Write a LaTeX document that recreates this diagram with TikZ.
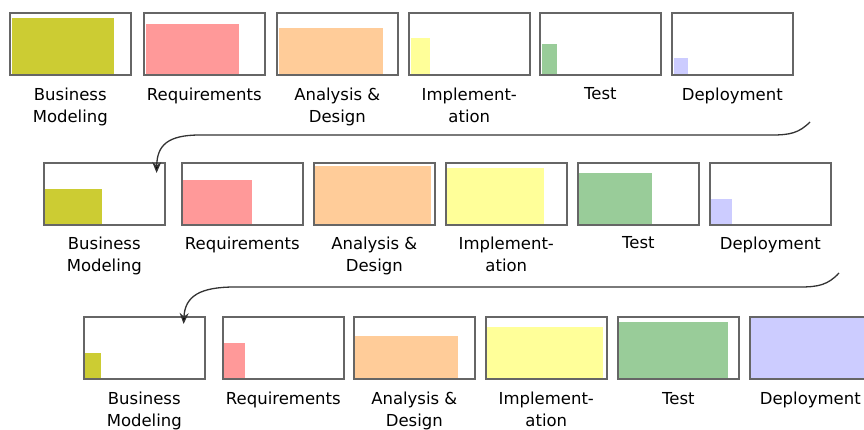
\documentclass[tikz,border=0pt]{standalone}
\usepackage{fontspec}
\setmainfont{DejaVu Sans}
\usetikzlibrary{arrows.meta,positioning}

\definecolor{boxgray}{HTML}{666666}
\definecolor{linegray}{HTML}{333333}
\definecolor{bm}{HTML}{CCCC33}
\definecolor{rq}{HTML}{FF9999}
\definecolor{ad}{HTML}{FFCC99}
\definecolor{im}{HTML}{FFFF99}
\definecolor{ts}{HTML}{99CC99}
\definecolor{dp}{HTML}{CCCCFF}

\begin{document}
\begin{tikzpicture}[x=1pt, y=-1pt, >={Stealth[length=11pt,width=9pt,fill=black]}, shorten >=0pt,
    font=\fontsize{16.5}{22}\selectfont,
    phase/.style={draw=boxgray, line width=1.6pt, minimum width=121pt,
      minimum height=62pt, inner sep=0pt, anchor=north west},
    caption/.style={anchor=north, align=center, inner sep=0pt},
    flow/.style={->, draw=linegray, line width=1.3pt}]

    \clip (0,0) rectangle (864,430);

    % Iteration 1 {a1 .. a6}
    \foreach \px/\fw/\fh/\col/\txt [count=\i] in {
        9/102/56/bm/{Business\\Modeling}, 143/93/50/rq/Requirements,
        276/104/46/ad/{Analysis \&\\Design}, 408/19/36/im/{Implement-\\ation},
        539/15/30/ts/Test, 671/14/16/dp/Deployment}
    {
        \node [phase] (a\i) at (\px,12) {};
        \fill [\col] ([shift={(2.5pt,2pt)}]a\i.south west) rectangle ++(\fw pt,\fh pt);
        \node [caption] (la\i) [below=12pt of a\i] {\txt};
    }

    % Iteration 2 {b1 .. b6}
    \foreach \px/\fw/\fh/\col/\txt [count=\i] in {
        43/57/35/bm/{Business\\Modeling}, 181/69/44/rq/Requirements,
        313/116/58/ad/{Analysis \&\\Design}, 445/97/56/im/{Implement-\\ation},
        577/73/51/ts/Test, 709/21/25/dp/Deployment}
    {
        \node [phase] (b\i) at (\px,162) {};
        \fill [\col] ([shift={(2pt,2pt)}]b\i.south west) rectangle ++(\fw pt,\fh pt);
        \node [caption] (lb\i) [below=11pt of b\i] {\txt};
    }

    % Iteration 3 {c1 .. c6}
    \foreach \px/\fw/\fh/\col/\txt [count=\i] in {
        83/16/25/bm/{Business\\Modeling}, 222/21/35/rq/Requirements,
        353/103/42/ad/{Analysis \&\\Design}, 485/116/51/im/{Implement-\\ation},
        617/109/56/ts/Test, 749/119/60/dp/Deployment}
    {
        \node [phase] (c\i) at (\px,316) {};
        \fill [\col] ([shift={(2pt,2pt)}]c\i.south west) rectangle ++(\fw pt,\fh pt);
        \node [caption] (lc\i) [below=12.5pt of c\i] {\txt};
    }

    % Paths
    \coordinate (next1) at (810,122);
    \coordinate (next2) at (839,273);
    \draw [flow] (next1) .. controls (799,133) and (790,135) .. (772,135)
        -- (200,135) .. controls (168,135) and (157,145) .. ([shift={(-9pt,-11pt)}]b1.north east);
    \draw [flow] (next2) .. controls (828,285) and (818,287) .. (800,287)
        -- (235,287) .. controls (200,287) and (185,296) .. ([shift={(-22pt,-8pt)}]c1.north east);

\end{tikzpicture}
\end{document}
